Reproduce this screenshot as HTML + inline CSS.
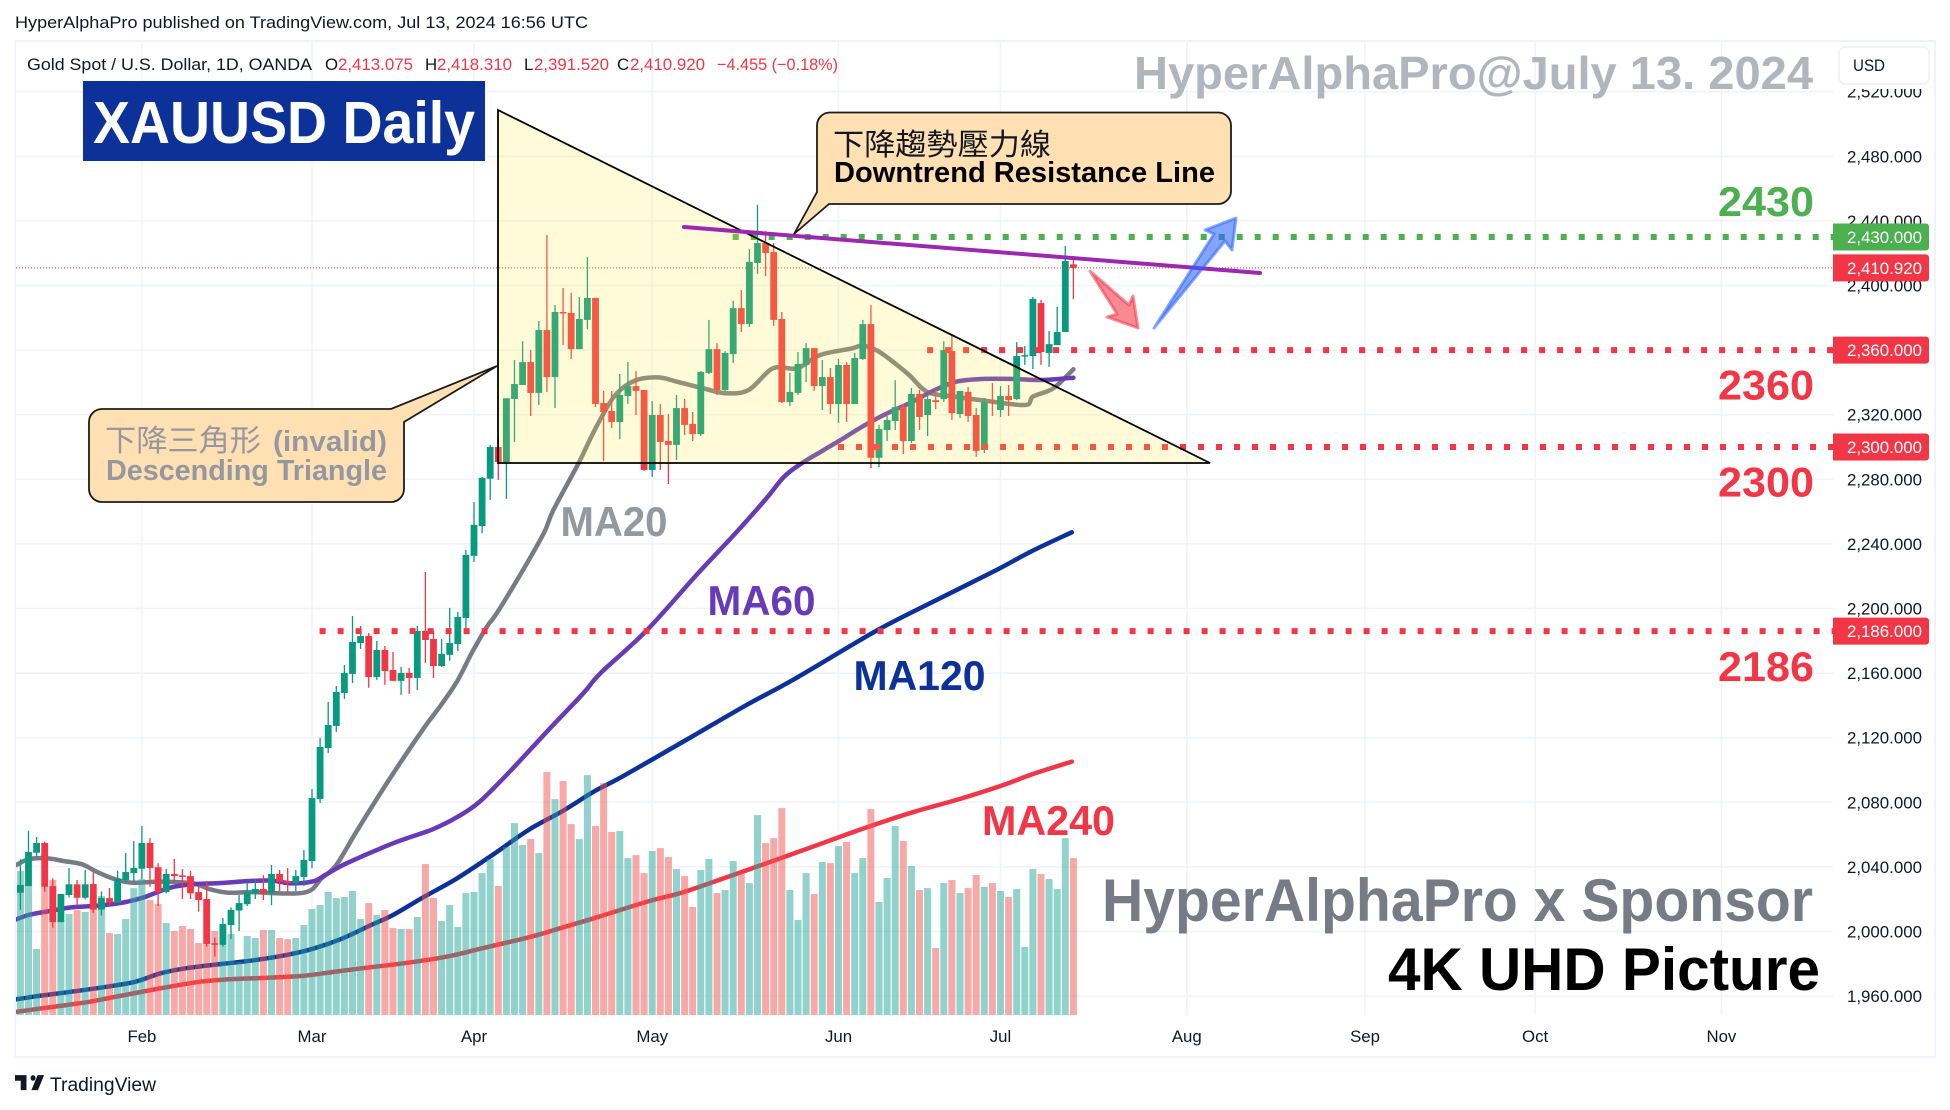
<!DOCTYPE html>
<html lang="en">
<head>
<meta charset="utf-8">
<title>XAUUSD Daily</title>
<style>
html,body{margin:0;padding:0;background:#fff;}
svg{display:block;font-family:"Liberation Sans","Noto Sans CJK TC",sans-serif;}
.cjk{font-family:"Liberation Sans","Noto Sans CJK TC",sans-serif;font-weight:400;}
.big{font-weight:700;}
.ax{font-size:16.8px;fill:#131722;}
</style>
</head>
<body>
<svg id="chart" width="1950" height="1110" viewBox="0 0 1950 1110" xmlns="http://www.w3.org/2000/svg">
  <defs>
    <clipPath id="paneClip"><rect x="16" y="42" width="1817" height="973"/></clipPath>
    <clipPath id="axisClip"><rect x="1834" y="89" width="100" height="935"/></clipPath>
  </defs>
  <rect x="0" y="0" width="1950" height="1110" fill="#ffffff"/>
  <text x="15" y="28" font-size="17" fill="#131722" textLength="573" lengthAdjust="spacingAndGlyphs">HyperAlphaPro published on TradingView.com, Jul 13, 2024 16:56 UTC</text>
  <rect x="15" y="41" width="1920" height="1016" fill="none" stroke="#f0f3fa" stroke-width="2"/>

  <g id="grid" clip-path="url(#paneClip)"></g>
  <g id="maLines" clip-path="url(#paneClip)"></g>
  <g id="volumes" clip-path="url(#paneClip)"></g>
  <g id="candles" clip-path="url(#paneClip)"></g>
  <g id="levels" clip-path="url(#paneClip)"></g>

  <polygon points="498,110 1210,463 498,463" fill="#ffeb3b" fill-opacity="0.2" stroke="#000000" stroke-width="1.8"/>
  <line x1="684" y1="227" x2="1260" y2="273" stroke="#9c27b0" stroke-width="4" stroke-linecap="round"/>

  <polygon points="1090,271 1129,305 1133,296 1138,328 1107,317 1117,314" fill="#f23645" fill-opacity="0.58" stroke="#f23645" stroke-opacity="0.55" stroke-width="3" stroke-linejoin="round"/>
  <polygon points="1154,328 1214,234 1205,230 1236,218 1232,250 1225,241" fill="#2962ff" fill-opacity="0.58" stroke="#2962ff" stroke-opacity="0.55" stroke-width="3" stroke-linejoin="round"/>

  <path d="M102,409 H391 L497,366 L404,422 V489 A13,13 0 0 1 391,502 H102 A13,13 0 0 1 89,489 V422 A13,13 0 0 1 102,409 Z" fill="#ffe0b2" stroke="#1c1c1c" stroke-width="1.8"/>
  <text class="cjk" x="105" y="451" font-size="30" fill="#9598a1" textLength="156" lengthAdjust="spacingAndGlyphs">下降三角形</text>
  <text class="big" x="273" y="451" font-size="29" fill="#9598a1" textLength="114" lengthAdjust="spacingAndGlyphs">(invalid)</text>
  <text class="big" x="106" y="480" font-size="29" fill="#9598a1" textLength="281" lengthAdjust="spacingAndGlyphs">Descending Triangle</text>

  <path d="M830,112.5 H1218 A13,13 0 0 1 1231,125.5 V191 A13,13 0 0 1 1218,204 H829 L794,234 L817,192 V125.5 A13,13 0 0 1 830,112.5 Z" fill="#ffe0b2" stroke="#1c1c1c" stroke-width="1.8"/>
  <text class="cjk" x="833" y="155" font-size="30" fill="#131722" textLength="218" lengthAdjust="spacingAndGlyphs">下降趨勢壓力線</text>
  <text class="big" x="834" y="182" font-size="29" fill="#000000" textLength="381" lengthAdjust="spacingAndGlyphs">Downtrend Resistance Line</text>

  <text x="27" y="70" font-size="16.8" fill="#131722" textLength="285" lengthAdjust="spacingAndGlyphs">Gold Spot / U.S. Dollar, 1D, OANDA</text>
  <text x="325" y="70" font-size="16.8" fill="#131722">O</text>
  <text x="338" y="70" font-size="16.8" fill="#f23645" textLength="75" lengthAdjust="spacingAndGlyphs">2,413.075</text>
  <text x="425" y="70" font-size="16.8" fill="#131722">H</text>
  <text x="437" y="70" font-size="16.8" fill="#f23645" textLength="75" lengthAdjust="spacingAndGlyphs">2,418.310</text>
  <text x="524" y="70" font-size="16.8" fill="#131722">L</text>
  <text x="534" y="70" font-size="16.8" fill="#f23645" textLength="75" lengthAdjust="spacingAndGlyphs">2,391.520</text>
  <text x="617" y="70" font-size="16.8" fill="#131722">C</text>
  <text x="630" y="70" font-size="16.8" fill="#f23645" textLength="75" lengthAdjust="spacingAndGlyphs">2,410.920</text>
  <text x="717" y="70" font-size="16.8" fill="#f23645" textLength="121" lengthAdjust="spacingAndGlyphs">−4.455 (−0.18%)</text>

  <rect x="83" y="81" width="402" height="80" fill="#0c3299"/>
  <text class="big" x="93" y="143" font-size="59" fill="#ffffff" textLength="382" lengthAdjust="spacingAndGlyphs">XAUUSD Daily</text>
  <text class="big" x="1134" y="89" font-size="46" fill="#b2b5be" textLength="679" lengthAdjust="spacingAndGlyphs">HyperAlphaPro@July 13. 2024</text>

  <text class="big" x="560.5" y="536" font-size="42" fill="#9598a1" textLength="107" lengthAdjust="spacingAndGlyphs">MA20</text>
  <text class="big" x="707.5" y="615" font-size="42" fill="#673ab7" textLength="108" lengthAdjust="spacingAndGlyphs">MA60</text>
  <text class="big" x="853.5" y="690" font-size="42" fill="#0c3299" textLength="132" lengthAdjust="spacingAndGlyphs">MA120</text>
  <text class="big" x="982" y="835" font-size="42" fill="#f23645" textLength="133" lengthAdjust="spacingAndGlyphs">MA240</text>

  <text class="big" x="1718" y="216" font-size="42" fill="#4caf50" textLength="96" lengthAdjust="spacingAndGlyphs">2430</text>
  <text class="big" x="1718" y="399.5" font-size="42" fill="#f23645" textLength="96" lengthAdjust="spacingAndGlyphs">2360</text>
  <text class="big" x="1718" y="496.5" font-size="42" fill="#f23645" textLength="96" lengthAdjust="spacingAndGlyphs">2300</text>
  <text class="big" x="1718" y="681" font-size="42" fill="#f23645" textLength="96" lengthAdjust="spacingAndGlyphs">2186</text>

  <text class="big" x="1102" y="921" font-size="60" fill="#787b86" textLength="711" lengthAdjust="spacingAndGlyphs">HyperAlphaPro x Sponsor</text>
  <text class="big" x="1388" y="990" font-size="60" fill="#000000" textLength="432" lengthAdjust="spacingAndGlyphs">4K UHD Picture</text>

  <g id="xAxis"></g>
  <g id="yAxis" clip-path="url(#axisClip)"></g>
  <g id="tags"></g>

  <rect x="1839" y="47" width="90" height="37" rx="6" fill="#ffffff" stroke="#eef0f5" stroke-width="1.5"/>
  <text x="1853" y="71" font-size="16.8" fill="#131722" textLength="32" lengthAdjust="spacingAndGlyphs">USD</text>

  <path transform="translate(15,1069.5) scale(.82,.94)" fill="#131722" d="M14 6H0v6h7v10h7V6zM28 22h-8l7.5-16h8L28 22zM22 6a3 3 0 1 0 0 6 3 3 0 0 0 0-6z"/>
  <text x="50" y="1091" font-size="19" fill="#131722" textLength="106" lengthAdjust="spacingAndGlyphs">TradingView</text>
</svg>
<script>
const opens=[2024.0,2028.1,2048.8,2054.8,2028.1,2005.8,2022.6,2029.2,2020.9,2029.4,2013.6,2020.7,2017.8,2031.9,2036.2,2038.9,2054.8,2039.8,2024.4,2035.6,2034.7,2034.3,2024.4,2020.1,1992.7,1991.7,2004.0,2013.0,2016.9,2023.7,2026.3,2024.0,2035.6,2031.3,2030.0,2033.7,2043.6,2082.1,2113.6,2127.3,2147.7,2159.5,2178.6,2183.0,2157.6,2174.3,2161.9,2155.2,2160.1,2157.0,2186.1,2181.1,2164.4,2171.3,2178.0,2194.1,2232.6,2251.1,2280.4,2300.0,2290.7,2329.7,2338.4,2352.6,2333.5,2372.4,2343.3,2383.6,2383.0,2360.6,2378.7,2392.3,2327.2,2322.3,2315.5,2331.6,2337.7,2335.3,2285.8,2319.8,2303.7,2301.3,2324.1,2314.3,2308.0,2345.9,2360.6,2335.3,2357.5,2386.0,2376.1,2413.9,2426.3,2420.7,2379.3,2327.8,2333.5,2350.8,2361.2,2337.7,2343.3,2326.6,2350.8,2326.6,2354.5,2376.1,2293.3,2310.5,2316.1,2324.7,2303.7,2332.8,2319.8,2329.0,2329.7,2359.4,2320.4,2334.1,2319.8,2298.2,2328.4,2322.9,2331.6,2329.7,2356.3,2356.3,2389.1,2358.2,2363.1,2371.2,2413.075];
const closes=[2028.8,2049.2,2054.8,2027.7,2005.8,2023.2,2029.2,2020.9,2029.2,2013.6,2020.7,2017.8,2032.5,2036.8,2039.3,2054.8,2039.3,2024.4,2035.6,2034.3,2033.9,2023.7,2019.5,1992.3,1992.1,2004.6,2013.4,2017.6,2024.4,2026.3,2023.6,2035.6,2030.7,2030.0,2034.3,2044.3,2082.6,2114.3,2127.9,2148.3,2160.1,2179.3,2183.0,2157.6,2174.3,2161.3,2155.2,2160.1,2157.0,2186.1,2180.5,2164.4,2171.9,2178.6,2194.7,2233.2,2251.8,2280.9,2300.0,2290.7,2330.2,2339.0,2352.6,2333.5,2372.4,2343.3,2383.6,2383.0,2360.6,2379.3,2392.3,2326.6,2321.7,2315.5,2332.2,2337.7,2334.7,2285.8,2319.8,2303.1,2301.3,2324.1,2313.7,2308.0,2346.5,2360.6,2335.3,2358.2,2386.0,2376.1,2414.6,2426.3,2420.1,2378.7,2327.8,2334.1,2351.4,2361.2,2337.7,2343.3,2326.6,2350.8,2326.6,2355.1,2376.1,2293.3,2311.2,2316.7,2324.7,2303.7,2332.8,2318.6,2329.7,2327.8,2360.0,2321.0,2334.7,2319.2,2297.6,2327.8,2327.8,2331.6,2329.0,2356.3,2356.9,2391.7,2358.8,2363.7,2371.2,2415.2,2410.92];
const highs=[2044.7,2062.4,2058.5,2055.5,2033.0,2023.2,2039.3,2031.9,2038.1,2036.6,2024.8,2026.9,2037.7,2048.6,2056.1,2065.3,2057.8,2042.3,2038.7,2044.9,2038.7,2037.5,2027.7,2031.3,1996.2,2008.3,2014.9,2022.6,2030.7,2032.3,2034.9,2041.2,2038.1,2039.3,2038.1,2050.4,2088.2,2119.9,2142.1,2152.0,2165.0,2195.4,2189.2,2184.8,2179.9,2176.8,2173.1,2163.8,2163.2,2189.2,2222.6,2186.1,2181.1,2200.4,2197.9,2236.3,2265.9,2281.4,2301.3,2305.6,2330.2,2353.9,2365.5,2360.0,2378.0,2431.3,2387.9,2398.5,2395.4,2392.9,2417.6,2392.3,2334.7,2334.7,2345.2,2352.6,2347.1,2335.3,2328.4,2326.6,2320.4,2332.2,2329.7,2321.7,2347.1,2378.7,2364.3,2359.4,2390.5,2397.2,2422.5,2449.8,2433.7,2426.3,2383.6,2345.9,2358.8,2364.3,2361.2,2353.9,2348.9,2354.5,2352.6,2358.2,2378.7,2387.9,2313.7,2319.2,2341.4,2326.6,2336.5,2335.3,2332.2,2335.3,2365.5,2368.7,2334.7,2337.1,2324.1,2330.3,2339.6,2337.7,2338.4,2364.9,2362.5,2392.9,2391.1,2371.8,2386.7,2424.4,2418.31];
const lows=[2013.4,2028.1,2045.9,2024.6,2002.4,2005.8,2021.1,2016.3,2019.9,2011.5,2009.8,2015.8,2017.8,2029.8,2030.9,2032.3,2027.7,2015.8,2023.6,2030.9,2020.1,2020.1,2012.3,1990.7,1984.4,1990.7,1995.4,2000.3,2015.8,2020.1,2019.5,2016.3,2025.0,2024.4,2025.0,2028.1,2039.3,2079.6,2110.6,2123.6,2144.0,2153.9,2175.0,2150.9,2155.8,2152.7,2155.2,2146.5,2147.1,2149.5,2166.3,2157.0,2163.8,2167.6,2173.7,2187.4,2228.8,2246.7,2267.2,2279.6,2267.8,2303.1,2338.4,2319.2,2326.0,2334.1,2324.1,2363.1,2354.5,2360.6,2373.1,2324.7,2291.3,2311.8,2304.9,2326.6,2319.8,2285.2,2281.5,2285.8,2277.1,2292.0,2307.4,2303.7,2306.8,2345.2,2332.2,2334.7,2352.0,2371.2,2374.3,2407.2,2405.8,2375.0,2327.2,2325.3,2332.2,2340.2,2334.7,2322.9,2320.4,2314.9,2315.5,2326.6,2353.9,2287.0,2287.6,2303.7,2310.5,2295.6,2302.5,2310.5,2306.8,2323.5,2327.8,2316.7,2318.0,2315.5,2293.9,2296.3,2319.2,2318.6,2319.2,2329.0,2350.8,2348.3,2350.8,2349.6,2363.1,2371.2,2391.52];
const volumesK=[1469,1316,673,1316,1377,969,1030,1071,1051,1224,1214,836,826,979,1295,1387,1173,1132,938,857,908,877,734,731,857,714,826,544,806,785,867,867,785,775,785,918,1081,1122,1255,1193,1204,1265,979,1142,1020,1071,887,877,877,1000,1540,1193,959,1122,898,1244,1255,1448,1591,1316,1714,1958,1734,1795,1652,2479,2203,2387,1948,1795,2448,1928,2366,1867,1877,1601,1632,1448,1673,1703,1612,1489,1418,1102,1479,1591,1244,1275,1571,1448,1346,2040,1754,1805,2111,1275,969,1448,1234,1561,1550,1724,1765,1448,1601,2101,1153,1397,1928,1775,1520,1275,1295,683,1346,1377,1244,1295,1428,1306,1346,1265,1204,1285,694,1489,1438,1387,1285,1805,1601];

const ma20Bars=[-0.5,1,3.2,5.4,7.6,9.4,11.6,13.8,17.3,21.3,23.5,25.7,28.4,35,37.2,39,41.6,45.5,49.7,51.8,53.9,55.7,57.6,58.8,61.7,64.6,65.8,68.9,70.9,73.3,75.8,78.7,81.1,84,87,89.9,92.9,95.9,98.7,102.6,104,106,109.5,111.9,115.3,118.7,124,125,127.5,130];
const ma20Values=[2041.2,2044.7,2045.3,2043.6,2041.6,2037,2032.5,2030.2,2030.9,2029.8,2026,2024,2024.4,2024,2033,2041.2,2062.8,2093.8,2125.2,2139.3,2154.8,2172.3,2188.8,2197,2220.8,2246.5,2261,2289.9,2310.5,2331.2,2341,2343.1,2340.4,2336.7,2333.3,2335.3,2348.7,2348.7,2356.9,2361,2362.7,2359,2345.6,2334.3,2331.2,2329,2326,2331.2,2336.3,2348.1];
const ma60Bars=[-0.5,1,3.2,6.3,9.4,12.5,15.1,18.6,21.7,24.8,28.3,31,33.6,36.3,37.6,40.3,46,50.9,54,56.7,60.6,65.2,69.5,71.6,77.3,83.5,88.1,92.1,94.3,96.5,99.2,101.6,104.3,107,109.7,112.9,115.5,118.7,122.6,126,130];
const ma60Values=[2007.5,2010.2,2012.3,2014.9,2015.9,2017.8,2020.9,2027.3,2029.4,2030,2031.3,2031.5,2029.8,2031.3,2034.9,2042.3,2054.6,2063.3,2071.1,2080.4,2100,2124.8,2147.5,2159.9,2186.3,2221,2245.6,2268.2,2281.7,2290,2298.2,2305.4,2313.7,2320.8,2327,2335.3,2340.4,2342.1,2342.1,2341.5,2342.9];
const ma120Bars=[-0.5,2.3,6.3,10.7,14.2,17.3,20.4,24.8,28.4,32.8,36.3,39.8,43.3,46,49.5,53.9,58.3,62.7,66.8,70.8,73.9,77.9,83.5,89.6,95.8,105.7,112.6,120.3,124.9,129.8];
const ma120Values=[1958,1960.1,1962.7,1965.8,1968.9,1974.1,1977.2,1979.9,1981.9,1985.4,1989.6,1995.8,2004,2010.2,2020.5,2032.9,2047.4,2062.8,2074.2,2086.6,2094.8,2106.2,2122.4,2140.1,2157,2186.3,2204,2223.3,2235.6,2247.2];
const ma240Bars=[-0.5,4.1,8.5,12.9,17.3,22.2,25.7,30.6,35,39.4,43.8,48.2,52.6,57,61.4,64.2,66.6,70.8,77.4,81.8,88,91.5,95,100.7,104.7,110.4,115.8,121,125,129.8];
const ma240Values=[1950.3,1953.4,1956.5,1960.7,1964.8,1968.9,1970.4,1971.4,1972.6,1975.5,1978.2,1980.9,1984.4,1989.6,1994.7,1998.3,2002,2008.2,2018.5,2024.3,2035,2041.2,2047.4,2057.7,2064.9,2074.2,2081.8,2090.1,2097.5,2105.2];

const priceTicks=[2520,2480,2440,2400,2360,2320,2280,2240,2200,2160,2120,2080,2040,2000,1960];
const monthLabels=["Feb","Mar","Apr","May","Jun","Jul","Aug","Sep","Oct","Nov"];
const monthBars=[15,36,56,78,101,121,144,166,187,210];
const levelPrices=[2430,2360,2300,2186];
const levelStartBars=[88,112,101,37];
const lastPrice=2410.92;

const NS='http://www.w3.org/2000/svg';
const xAt=i=>20.4+8.1*i;
const yAt=p=>931.5-1.615*(p-2000);
const volY=v=>1015-v*0.098;
const GREEN='#089981',RED='#f23645',PANE_R=1833;
const fmt=p=>p.toFixed(3).replace(/^(\d)(\d{3})\./,'$1,$2.');

function make(tag,parent,attrs){
  const el=document.createElementNS(NS,tag);
  for(const k in attrs)el.setAttribute(k,attrs[k]);
  document.getElementById(parent).appendChild(el);
  return el;
}
function smooth(pts){
  let d='M'+pts[0][0].toFixed(1)+','+pts[0][1].toFixed(1);
  for(let i=0;i<pts.length-1;i++){
    const a=pts[Math.max(i-1,0)],b=pts[i],c=pts[i+1],e=pts[Math.min(i+2,pts.length-1)];
    const c1x=b[0]+(c[0]-a[0])/6,c1y=b[1]+(c[1]-a[1])/6,c2x=c[0]-(e[0]-b[0])/6,c2y=c[1]-(e[1]-b[1])/6;
    d+=' C'+c1x.toFixed(1)+','+c1y.toFixed(1)+' '+c2x.toFixed(1)+','+c2y.toFixed(1)+' '+c[0].toFixed(1)+','+c[1].toFixed(1);
  }
  return d;
}

for(const p of priceTicks){
  const g=make('line','grid',{x1:16,x2:PANE_R,y1:yAt(p),y2:yAt(p),stroke:'#f0f3fa','stroke-width':1.5});
  
  
}
for(const b of monthBars){
  const g=make('line','grid',{x1:xAt(b),x2:xAt(b),y1:42,y2:1015,stroke:'#f0f3fa','stroke-width':1.5});
  
  
}

const maDefs=[[ma20Bars,ma20Values,'#787b86','ma20-line'],[ma60Bars,ma60Values,'#673ab7','ma60-line'],[ma120Bars,ma120Values,'#0c3299','ma120-line'],[ma240Bars,ma240Values,'#f23645','ma240-line']];
for(const def of maDefs){
  const pts=def[0].map((b,i)=>[xAt(b),yAt(def[1][i])]);
  const m=make('path','maLines',{d:smooth(pts),fill:'none',stroke:def[2],'stroke-width':4.5,'stroke-linejoin':'round','stroke-linecap':'round'});
  
  
}

volumesK.forEach((v,i)=>{
  const up=closes[i]>=opens[i];
  const r=make('rect','volumes',{x:xAt(i)-3.5,y:volY(v),width:7,height:1015-volY(v),fill:up?'#26a69a':'#ef5350','fill-opacity':0.5});
  
  
});

opens.forEach((o,i)=>{
  const c=closes[i],col=c>=o?GREEN:RED,x=xAt(i);
  const w=make('line','candles',{x1:x,x2:x,y1:yAt(highs[i]),y2:yAt(lows[i]),stroke:col,'stroke-width':1.3});
  
  
  const top=yAt(Math.max(o,c)),bot=yAt(Math.min(o,c));
  const b=make('rect','candles',{x:x-3.4,y:top,width:6.8,height:Math.max(bot-top,1.5),fill:col});
  
  
});

const lastLine=make('line','levels',{x1:16,x2:PANE_R,y1:yAt(lastPrice),y2:yAt(lastPrice),stroke:RED,'stroke-width':1,'stroke-dasharray':'1 2'});


levelPrices.forEach((p,i)=>{
  const l=make('line','levels',{x1:xAt(levelStartBars[i])-0.5,x2:PANE_R,y1:yAt(p),y2:yAt(p),stroke:p===2430?'#4caf50':RED,'stroke-width':6,'stroke-dasharray':'6 12'});
  
  
});

monthLabels.forEach((m,i)=>{
  const t=make('text','xAxis',{x:xAt(monthBars[i]),y:1042,'text-anchor':'middle','class':'ax'});
  t.textContent=m;
  
  
});
for(const p of priceTicks){
  const t=make('text','yAxis',{x:1847,y:yAt(p)+6,'class':'ax',textLength:75,lengthAdjust:'spacingAndGlyphs'});
  t.textContent=fmt(p);
  
  
}
const tagPrices=[2430,lastPrice,2360,2300,2186];
tagPrices.forEach(p=>{
  const y=yAt(p);
  const r=make('path','tags',{d:'M1833,'+(y-13.5)+' H1926 a3,3 0 0 1 3,3 V'+(y+10.5)+' a3,3 0 0 1 -3,3 H1833 Z',fill:p===2430?'#4caf50':RED});
  
  
  const t=make('text','tags',{x:1847,y:y+6,fill:'#ffffff','font-size':16.8,textLength:75,lengthAdjust:'spacingAndGlyphs'});
  t.textContent=fmt(p);
  
  
});
</script>
</body>
</html>
